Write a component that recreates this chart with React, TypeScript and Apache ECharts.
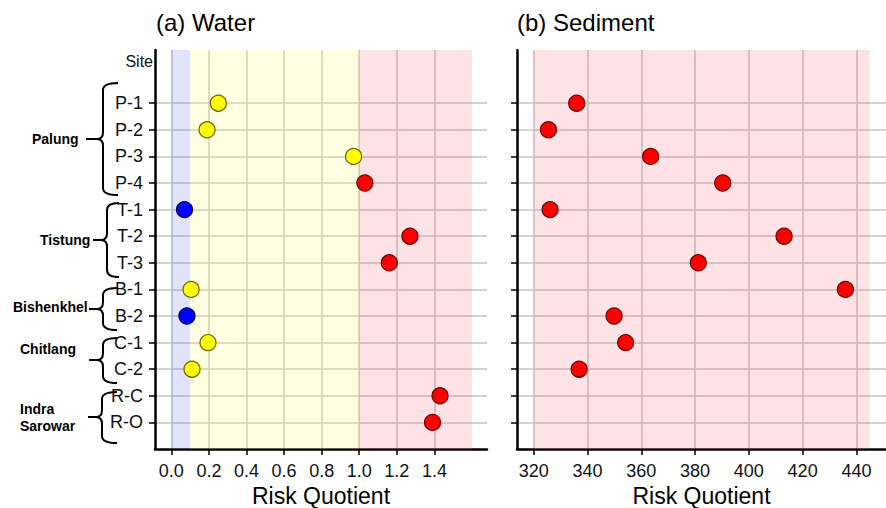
import React, { useEffect, useRef } from "react";
import * as echarts from "echarts";

// ---------- data ----------
const sites = ["P-1", "P-2", "P-3", "P-4", "T-1", "T-2", "T-3", "B-1", "B-2", "C-1", "C-2", "R-C", "R-O"];
const sitePositions = [1, 2, 3, 4, 5, 6, 7, 8, 9, 10, 11, 12, 13];
const waterRQ = [0.25, 0.19, 0.97, 1.03, 0.07, 1.27, 1.16, 0.105, 0.083, 0.195, 0.11, 1.43, 1.39];
const sedimentRQ: (number | null)[] = [336.0, 325.5, 363.5, 390.3, 326.1, 413.1, 381.2, 435.9, 349.9, 354.2, 336.9, null, null];
const waterTicks = [0, 0.2, 0.4, 0.6, 0.8, 1.0, 1.2, 1.4];
const sedimentTicks = [320, 340, 360, 380, 400, 420, 440];
const waterBands: [number, number, string][] = [
  [0, 0.1, "low"],
  [0.1, 1.0, "medium"],
  [1.0, 1.6, "high"],
];
const sedimentBands: [number, number, string][] = [[320, 445, "high"]];
const groupNames = [["Palung"], ["Tistung"], ["Bishenkhel"], ["Chitlang"], ["Indra", "Sarowar"]];

// ---------- styles ----------
const FONT = "'Liberation Sans', Arial, sans-serif";
const bandColor: Record<string, string> = {
  low: "rgba(90,100,230,0.18)",
  medium: "rgba(255,255,110,0.2)",
  high: "rgba(245,110,130,0.2)",
};
const riskFill = (v: number) => (v < 0.1 ? "#0000ff" : v <= 1 ? "#ffff00" : "#ff0000");
const riskBorder = (v: number) => (v < 0.1 ? "#00005a" : v <= 1 ? "#6b6300" : "#700000");

// annotation geometry (pixels) for group braces and labels
const braceGeom = [
  { x: 103, y1: 83, y2: 195, ym: 139, xEnd: 118, xTip: 97, dash: 86, lx: 32, ly: [139] },
  { x: 107, y1: 203, y2: 277, ym: 240, xEnd: 119, xTip: 101, dash: 93, lx: 40, ly: [240] },
  { x: 103, y1: 288, y2: 330, ym: 309, xEnd: 117, xTip: 97, dash: 89, lx: 13, ly: [307] },
  { x: 103, y1: 338, y2: 383, ym: 360, xEnd: 117, xTip: 97, dash: 89, lx: 20, ly: [349] },
  { x: 102, y1: 392, y2: 443, ym: 417, xEnd: 117, xTip: 96, dash: 88, lx: 20, ly: [409, 426] },
];

function bracePath(g: (typeof braceGeom)[number]) {
  const r = 7;
  return (
    `M ${g.xEnd} ${g.y1} Q ${g.x} ${g.y1} ${g.x} ${g.y1 + r} L ${g.x} ${g.ym - r} ` +
    `Q ${g.x} ${g.ym} ${g.xTip} ${g.ym} Q ${g.x} ${g.ym} ${g.x} ${g.ym + r} ` +
    `L ${g.x} ${g.y2 - r} Q ${g.x} ${g.y2} ${g.xEnd} ${g.y2} ` +
    `M ${g.dash} ${g.ym} L ${g.xTip} ${g.ym}`
  );
}

braceGeom.forEach((g, i) => {
  echarts.graphic.registerShape("brace" + i, echarts.graphic.extendPath(bracePath(g), {}) as any);
});

function makeXAxis(gridIndex: number, min: number, max: number, ticks: number[], fmt: (v: number) => string) {
  return {
    gridIndex,
    type: "value",
    min,
    max,
    name: "Risk Quotient",
    nameLocation: "middle",
    nameGap: 32,
    nameTextStyle: { fontSize: 23, color: "#000", fontFamily: FONT },
    axisLine: { show: true, onZero: false, lineStyle: { color: "#000", width: 2.5 } },
    axisTick: { show: true, customValues: ticks, length: 6, lineStyle: { color: "#000", width: 1.5 } },
    axisLabel: { show: true, customValues: ticks, formatter: fmt, fontSize: 18, color: "#111", margin: 13, fontFamily: FONT },
    splitLine: { show: true, lineStyle: { color: "#c4c4c4", width: 1.5 } },
  };
}

function makeYAxis(gridIndex: number, showLabels: boolean) {
  return {
    gridIndex,
    type: "value",
    min: -1,
    max: 14,
    inverse: true,
    axisLine: { show: true, onZero: false, lineStyle: { color: "#000", width: 2.5 } },
    axisTick: { show: true, customValues: sitePositions, length: 6, lineStyle: { color: "#000", width: 1.5 } },
    axisLabel: {
      show: showLabels,
      customValues: sitePositions,
      formatter: (v: number) => sites[Math.round(v) - 1] ?? "",
      fontSize: 18,
      color: "#111",
      margin: 12,
      fontFamily: FONT,
    },
    splitLine: { show: true, lineStyle: { color: "#c4c4c4", width: 1.5 } },
  };
}

function pointData(values: (number | null)[], colorValue: (v: number) => number) {
  return values
    .map((v, i) =>
      v == null
        ? null
        : {
            value: [v, sitePositions[i]],
            itemStyle: {
              color: riskFill(colorValue(v)),
              borderColor: riskBorder(colorValue(v)),
              borderWidth: 1.2,
              opacity: 1,
            },
          }
    )
    .filter((d) => d !== null);
}

export default function App() {
  const ref = useRef<HTMLDivElement>(null);

  useEffect(() => {
    if (!ref.current) return;
    const chart = echarts.init(ref.current, undefined, { renderer: "svg" });

    const graphics: any[] = [
      { type: "text", left: 156, top: 10, style: { text: "(a) Water", font: `24px ${FONT}`, fill: "#000" } },
      { type: "text", left: 517, top: 10, style: { text: "(b) Sediment", font: `24px ${FONT}`, fill: "#000" } },
      { type: "text", x: 153, y: 61, style: { text: "Site", font: `16px ${FONT}`, fill: "#111", align: "right", verticalAlign: "middle" } },
    ];
    braceGeom.forEach((g, i) => {
      graphics.push({ type: "brace" + i, x: 0, y: 0, style: { stroke: "#000", lineWidth: 2, fill: "none" } });
      groupNames[i].forEach((t, j) => {
        graphics.push({
          type: "text",
          x: g.lx,
          y: g.ly[j],
          style: { text: t, font: `bold 14px ${FONT}`, fill: "#000", align: "left", verticalAlign: "middle" },
        });
      });
    });

    chart.setOption({
      animation: false,
      textStyle: { fontFamily: FONT },
      grid: [
        { left: 155, top: 50, width: 332, height: 399, outerBoundsMode: "none", containLabel: false },
        { left: 517, top: 50, width: 369, height: 399, outerBoundsMode: "none", containLabel: false },
      ],
      xAxis: [
        makeXAxis(0, -0.087, 1.68, waterTicks, (v: number) => v.toFixed(1)),
        makeXAxis(1, 313.8, 451, sedimentTicks, (v: number) => String(Math.round(v))),
      ],
      yAxis: [makeYAxis(0, true), makeYAxis(1, false)],
      series: [
        {
          type: "scatter",
          xAxisIndex: 0,
          yAxisIndex: 0,
          symbolSize: 16,
          itemStyle: { opacity: 1 },
          data: pointData(waterRQ, (v) => v),
          markArea: {
            silent: true,
            data: waterBands.map(([a, b, k]) => [{ xAxis: a, itemStyle: { color: bandColor[k] } }, { xAxis: b }]),
          },
        },
        {
          type: "scatter",
          xAxisIndex: 1,
          yAxisIndex: 1,
          symbolSize: 16,
          itemStyle: { opacity: 1 },
          data: pointData(sedimentRQ, () => 2),
          markArea: {
            silent: true,
            data: sedimentBands.map(([a, b, k]) => [{ xAxis: a, itemStyle: { color: bandColor[k] } }, { xAxis: b }]),
          },
        },
      ],
      graphic: graphics,
    });

    return () => chart.dispose();
  }, []);

  return <div ref={ref} style={{ position: "absolute", left: 0, top: 0, width: 886, height: 508 }} />;
}
